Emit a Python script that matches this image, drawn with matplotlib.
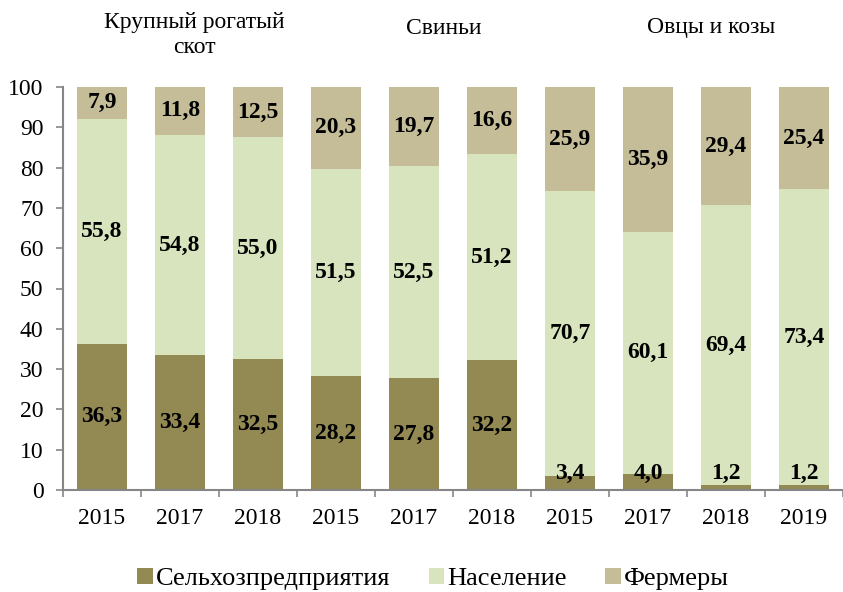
import matplotlib.pyplot as plt
import numpy as np

plt.rcParams['font.family'] = ['Liberation Serif', 'DejaVu Serif']

# data
years = ['2015', '2017', '2018', '2015', '2017', '2018', '2015', '2017', '2018', '2019']
agro = [36.3, 33.4, 32.5, 28.2, 27.8, 32.2, 3.4, 4.0, 1.2, 1.2]  # Сельхозпредприятия
people = [55.8, 54.8, 55.0, 51.5, 52.5, 51.2, 70.7, 60.1, 69.4, 73.4]  # Население
farmers = [7.9, 11.8, 12.5, 20.3, 19.7, 16.6, 25.9, 35.9, 29.4, 25.4]  # Фермеры
groups = ['Крупный рогатый\nскот', 'Свиньи', 'Овцы и козы']

c_agro = '#938953'
c_people = '#d7e4bd'
c_farm = '#c4bd97'
axis_col = '#868686'
fs = 17

fig = plt.figure(figsize=(8.43, 5.92), dpi=100)
ax = fig.add_axes([63 / 843, 102 / 592, 780 / 843, 403 / 592])

x = np.arange(len(years))
w = 0.63
agro = np.array(agro)
people = np.array(people)
farmers = np.array(farmers)

ax.bar(x, agro, w, color=c_agro, label='Сельхозпредприятия')
ax.bar(x, people, w, bottom=agro, color=c_people, label='Население')
ax.bar(x, farmers, w, bottom=agro + people, color=c_farm, label='Фермеры')

def fmt(v):
    return ('%.1f' % v).replace('.', ',')

lab_kw = dict(ha='center', va='center', fontsize=fs, fontweight='bold')
for i in range(len(x)):
    ya = agro[i] / 2 if agro[i] > 8 else 4.2
    ax.text(x[i], ya, fmt(agro[i]), **lab_kw)
    ax.text(x[i], agro[i] + people[i] / 2, fmt(people[i]), **lab_kw)
    ax.text(x[i], agro[i] + people[i] + farmers[i] / 2, fmt(farmers[i]), **lab_kw)

ax.set_xlim(-0.5, len(x) - 0.5)
ax.set_ylim(0, 100)
ax.set_yticks(range(0, 101, 10))
ax.set_xticks(x)
ax.set_xticklabels(years)
ax.set_xticks(np.arange(-0.5, len(x) - 0.4, 1), minor=True)
ax.tick_params(axis='x', which='major', length=0, labelsize=fs, pad=13)
ax.tick_params(axis='x', which='minor', length=5, color=axis_col, width=1.2)
ax.tick_params(axis='y', length=5, color=axis_col, width=1.2, labelsize=fs, pad=9)

for s in ['top', 'right']:
    ax.spines[s].set_visible(False)
for s in ['left', 'bottom']:
    ax.spines[s].set_color(axis_col)
    ax.spines[s].set_linewidth(1.5)

# group titles
fig.text(194 / 843, 1 - 35 / 592, groups[0], ha='center', va='center', fontsize=fs, linespacing=1.2)
fig.text(444 / 843, 1 - 28 / 592, groups[1], ha='center', va='center', fontsize=fs)
fig.text(711 / 843, 1 - 28 / 592, groups[2], ha='center', va='center', fontsize=fs)

fig.legend(loc='center', bbox_to_anchor=(433 / 843, 1 - 579 / 592), ncol=3, frameon=False,
           fontsize=19, handlelength=0.6, handleheight=0.6, handletextpad=0.12,
           columnspacing=1.45, borderpad=0)

fig.savefig('out.png', dpi=100)
